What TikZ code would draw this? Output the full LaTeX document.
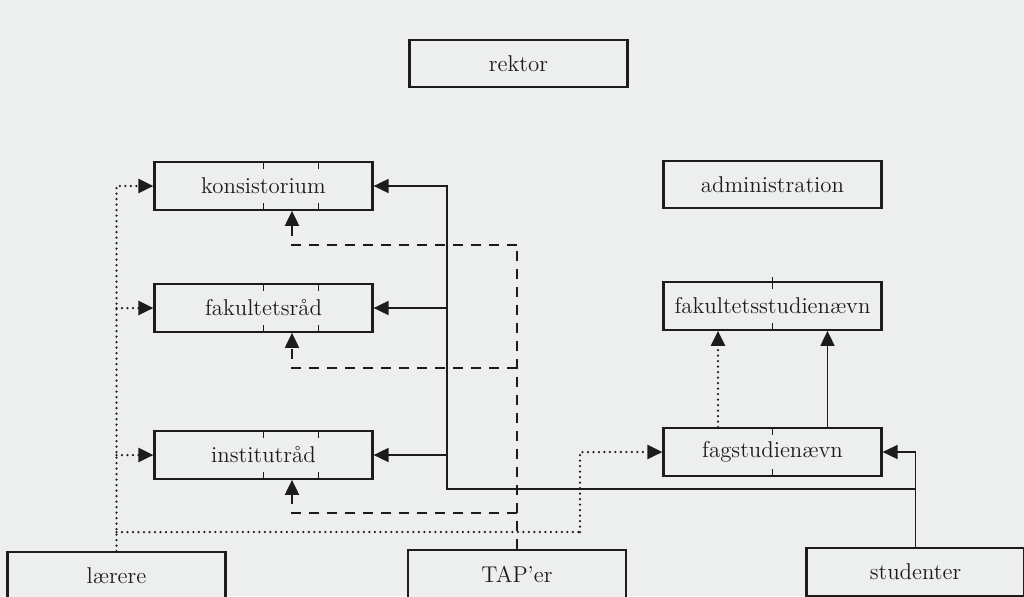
\documentclass[tikz,border=0pt]{standalone}
\usetikzlibrary{arrows.meta}
\definecolor{pagegray}{RGB}{237,239,238}
\definecolor{inkgray}{RGB}{28,28,28}
\tikzset{
  orgbox/.style={rectangle, draw=inkgray, line width=0.045cm, fill=pagegray, minimum width=4.36cm, minimum height=0.95cm, inner sep=0pt, text=inkgray, font=\fontsize{13}{16}\selectfont},
  solidlink/.style={draw=inkgray, line width=0.035cm},
  dashlink/.style={draw=inkgray, line width=0.04cm, dash pattern=on 0.2cm off 0.16cm},
  dotlink/.style={draw=inkgray, line width=0.05cm, line cap=round, dash pattern=on 0cm off 0.11cm},
  tip/.style={-{Triangle[length=0.3cm,width=0.28cm]}},
}
\begin{document}
\begin{tikzpicture}[x=0.02cm, y=-0.02cm]
        \def\ticklen{8}
        \def\tickshift{1.1cm}
        \fill[pagegray] (0,0) rectangle (1024,596);
        \useasboundingbox (0,0) rectangle (1024,596);

        % top and left column
        \node[orgbox] (rektor) at (518.5, 63.5) {rektor};
        \node[orgbox] (konsistorium) at (263.5, 186) {konsistorium};
        \node[orgbox] (fakultetsraad) at (263.5, 308) {fakultetsråd};
        \node[orgbox] (institutraad) at (263.5, 455) {institutråd};

        % right column
        \node[orgbox] (administration) at (772.5, 184.5) {administration};
        \node[orgbox] (fakstudnaevn) at (772.5, 306) {fakultetsstudienævn};
        \node[orgbox] (fagstudnaevn) at (772.5, 452) {fagstudienævn};

        % bottom row
        \node[orgbox] (laerere) at (116.5, 576) {lærere};
        \node[orgbox] (taper) at (517, 574) {TAP’er};
        \node[orgbox] (studenter) at (915.5, 572) {studenter};

        % tick marks on the boxes
        \foreach \b in {konsistorium, fakultetsraad, institutraad} {
          \draw[inkgray, line width=0.035cm] (\b.north) -- ++(0,\ticklen);
          \draw[inkgray, line width=0.035cm] ([xshift=\tickshift]\b.north) -- ++(0,\ticklen);
          \draw[inkgray, line width=0.035cm] (\b.south) -- ++(0,-\ticklen);
          \draw[inkgray, line width=0.035cm] ([xshift=\tickshift]\b.south) -- ++(0,-\ticklen);
        }
        \draw[inkgray, line width=0.035cm] ([yshift=0.08cm]fakstudnaevn.north) -- ++(0,\ticklen+4);
        \draw[inkgray, line width=0.035cm] (fakstudnaevn.south) -- ++(0,-\ticklen);
        \draw[inkgray, line width=0.035cm] (fagstudnaevn.north) -- ++(0,\ticklen);
        \draw[inkgray, line width=0.035cm] (fagstudnaevn.south) -- ++(0,-\ticklen);

        % laerere (dotted)
        \coordinate (dotbend) at (580, 532);
        \draw[dotlink, tip] (laerere.north) |- (konsistorium.west);
        \draw[dotlink, tip] (laerere.north |- fakultetsraad.west) -- (fakultetsraad.west);
        \draw[dotlink, tip] (laerere.north |- institutraad.west) -- (institutraad.west);
        \draw[dotlink] (laerere.north |- dotbend) -- (dotbend);
        \draw[dotlink, tip] (dotbend) |- (fagstudnaevn.west);
        \draw[dotlink, tip] ([xshift=-1.09cm]fagstudnaevn.north) -- ([xshift=-1.09cm]fakstudnaevn.south);

        % TAP'er (dashed)
        \coordinate (dashk) at (517, 245);
        \coordinate (dashf) at (517, 368);
        \coordinate (dashi) at (517, 513);
        \draw[dashlink] (taper.north) -- (dashk);
        \draw[dashlink, tip] (dashk) -| ([xshift=0.57cm]konsistorium.south);
        \draw[dashlink, tip] (dashf) -| ([xshift=0.57cm]fakultetsraad.south);
        \draw[dashlink, tip] (dashi) -| ([xshift=0.57cm]institutraad.south);

        % studenter (solid)
        \coordinate (solidjoin) at (447, 489);
        \draw[solidlink, tip] (studenter.north) |- (fagstudnaevn.east);
        \draw[solidlink, tip] (studenter.north |- solidjoin) -- (solidjoin) |- (konsistorium.east);
        \draw[solidlink, tip] (solidjoin |- fakultetsraad.east) -- (fakultetsraad.east);
        \draw[solidlink, tip] (solidjoin |- institutraad.east) -- (institutraad.east);
        \draw[solidlink, tip] ([xshift=1.1cm]fagstudnaevn.north) -- ([xshift=1.1cm]fakstudnaevn.south);
\end{tikzpicture}
\end{document}
